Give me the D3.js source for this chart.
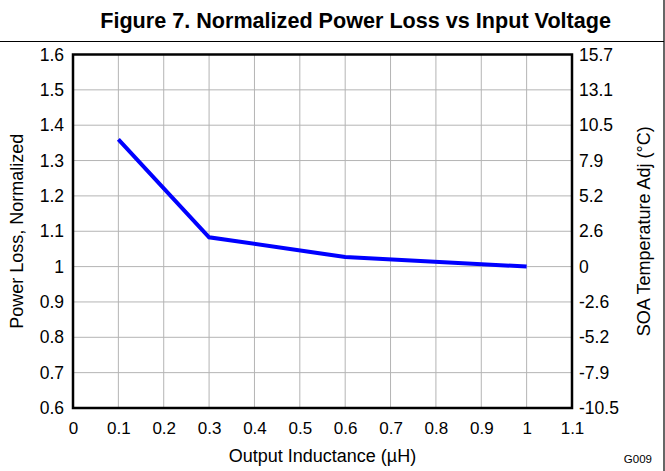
<!DOCTYPE html>
<html>
<head>
<meta charset="utf-8">
<script src="https://cdn.jsdelivr.net/npm/d3@7"></script>
<style>
  body { margin: 0; background: #fff; }
  svg text { font-family: "Liberation Sans", Arial, sans-serif; fill: #000; }
  .axis path, .axis line { display: none; }
</style>
</head>
<body>
<div id="chart"></div>
<script>
// data
var inductance = [0.1, 0.3, 0.6, 1.0]            // uH
var powerLoss  = [1.36, 1.083, 1.027, 1.0]       // normalized
var xTicks = [0, 0.1, 0.2, 0.3, 0.4, 0.5, 0.6, 0.7, 0.8, 0.9, 1.0, 1.1]
var yTicks = [0.6, 0.7, 0.8, 0.9, 1.0, 1.1, 1.2, 1.3, 1.4, 1.5, 1.6]
var soaLabels = ["-10.5", "-7.9", "-5.2", "-2.6", "0", "2.6", "5.2", "7.9", "10.5", "13.1", "15.7"]

var W = 665, H = 471
var margin = {top: 54.5, right: 93, bottom: 63, left: 73}

var svg = d3.select("#chart").append("svg")
    .attr("width", W)
    .attr("height", H)

// frame bits: title rule + right border
svg.append("line")
    .attr("x1", 0).attr("x2", 664)
    .attr("y1", 41.5).attr("y2", 41.5)
    .style("stroke", "#000").style("stroke-width", 1.2)
svg.append("line")
    .attr("x1", 664).attr("x2", 664)
    .attr("y1", 0).attr("y2", H)
    .style("stroke", "#000").style("stroke-width", 1.2)

svg.append("text")
    .text("Figure 7. Normalized Power Loss vs Input Voltage")
    .attr("x", 611)
    .attr("y", 28)
    .attr("text-anchor", "end")
    .style("font-weight", "bold")
    .style("font-size", "21.6px")

var x = d3.scaleLinear()
    .domain([0, 1.1])
    .range([margin.left, W - margin.right])

var y = d3.scaleLinear()
    .domain([0.6, 1.6])
    .range([H - margin.bottom, margin.top])

// grid
svg.append("g").selectAll("line")
    .data(xTicks.slice(1, -1))
    .enter().append("line")
    .attr("x1", d => x(d)).attr("x2", d => x(d))
    .attr("y1", y(0.6)).attr("y2", y(1.6))
    .style("stroke", "#b4b4b4").style("stroke-width", 1)

svg.append("g").selectAll("line")
    .data(yTicks.slice(1, -1))
    .enter().append("line")
    .attr("x1", x(0)).attr("x2", x(1.1))
    .attr("y1", d => y(d)).attr("y2", d => y(d))
    .style("stroke", "#b4b4b4").style("stroke-width", 1)

// axes (labels only)
var xAxis = svg.append("g").attr("class", "axis")
    .attr("transform", `translate(0,${y(0.6) + 8})`)
    .call(d3.axisBottom(x).tickValues(xTicks).tickSize(0).tickPadding(6)
        .tickFormat(d => d3.format("")(+d.toFixed(1))))
xAxis.selectAll("text").style("font-size", "17px")

var yAxis = svg.append("g").attr("class", "axis")
    .attr("transform", `translate(${x(0) - 9},0)`)
    .call(d3.axisLeft(y).tickValues(yTicks).tickSize(0).tickPadding(0)
        .tickFormat(d => d3.format("")(+d.toFixed(1))))
yAxis.selectAll("text").style("font-size", "17.5px")

var rAxis = svg.append("g").attr("class", "axis")
    .attr("transform", `translate(${x(1.1) + 7},0)`)
    .call(d3.axisRight(y).tickValues(yTicks).tickSize(0).tickPadding(0)
        .tickFormat((d, i) => soaLabels[i]))
rAxis.selectAll("text").style("font-size", "17.5px")

// plot frame
svg.append("rect")
    .attr("x", x(0)).attr("y", y(1.6))
    .attr("width", x(1.1) - x(0))
    .attr("height", y(0.6) - y(1.6))
    .style("fill", "none")
    .style("stroke", "#000")
    .style("stroke-width", 2.5)

// the curve
var line = d3.line()
    .x((d, i) => x(inductance[i]))
    .y(d => y(d))

svg.append("path")
    .datum(powerLoss)
    .attr("d", line)
    .style("fill", "none")
    .style("stroke", "#0000ff")
    .style("stroke-width", 4)
    .style("stroke-linejoin", "miter")

// axis titles
svg.append("text")
    .text("Output Inductance (\u00b5H)")
    .attr("x", (x(0) + x(1.1)) / 2)
    .attr("y", 462)
    .attr("text-anchor", "middle")
    .style("font-size", "18px")

svg.append("text")
    .text("Power Loss, Normalized")
    .attr("transform", `translate(23,${(y(0.6) + y(1.6)) / 2}) rotate(-90)`)
    .attr("text-anchor", "middle")
    .style("font-size", "18px")

svg.append("text")
    .text("SOA Temperature Adj (\u00b0C)")
    .attr("transform", `translate(650,${(y(0.6) + y(1.6)) / 2}) rotate(-90)`)
    .attr("text-anchor", "middle")
    .style("font-size", "18px")

svg.append("text")
    .text("G009")
    .attr("x", 652)
    .attr("y", 463)
    .attr("text-anchor", "end")
    .style("font-size", "11.5px")
</script>
</body>
</html>
